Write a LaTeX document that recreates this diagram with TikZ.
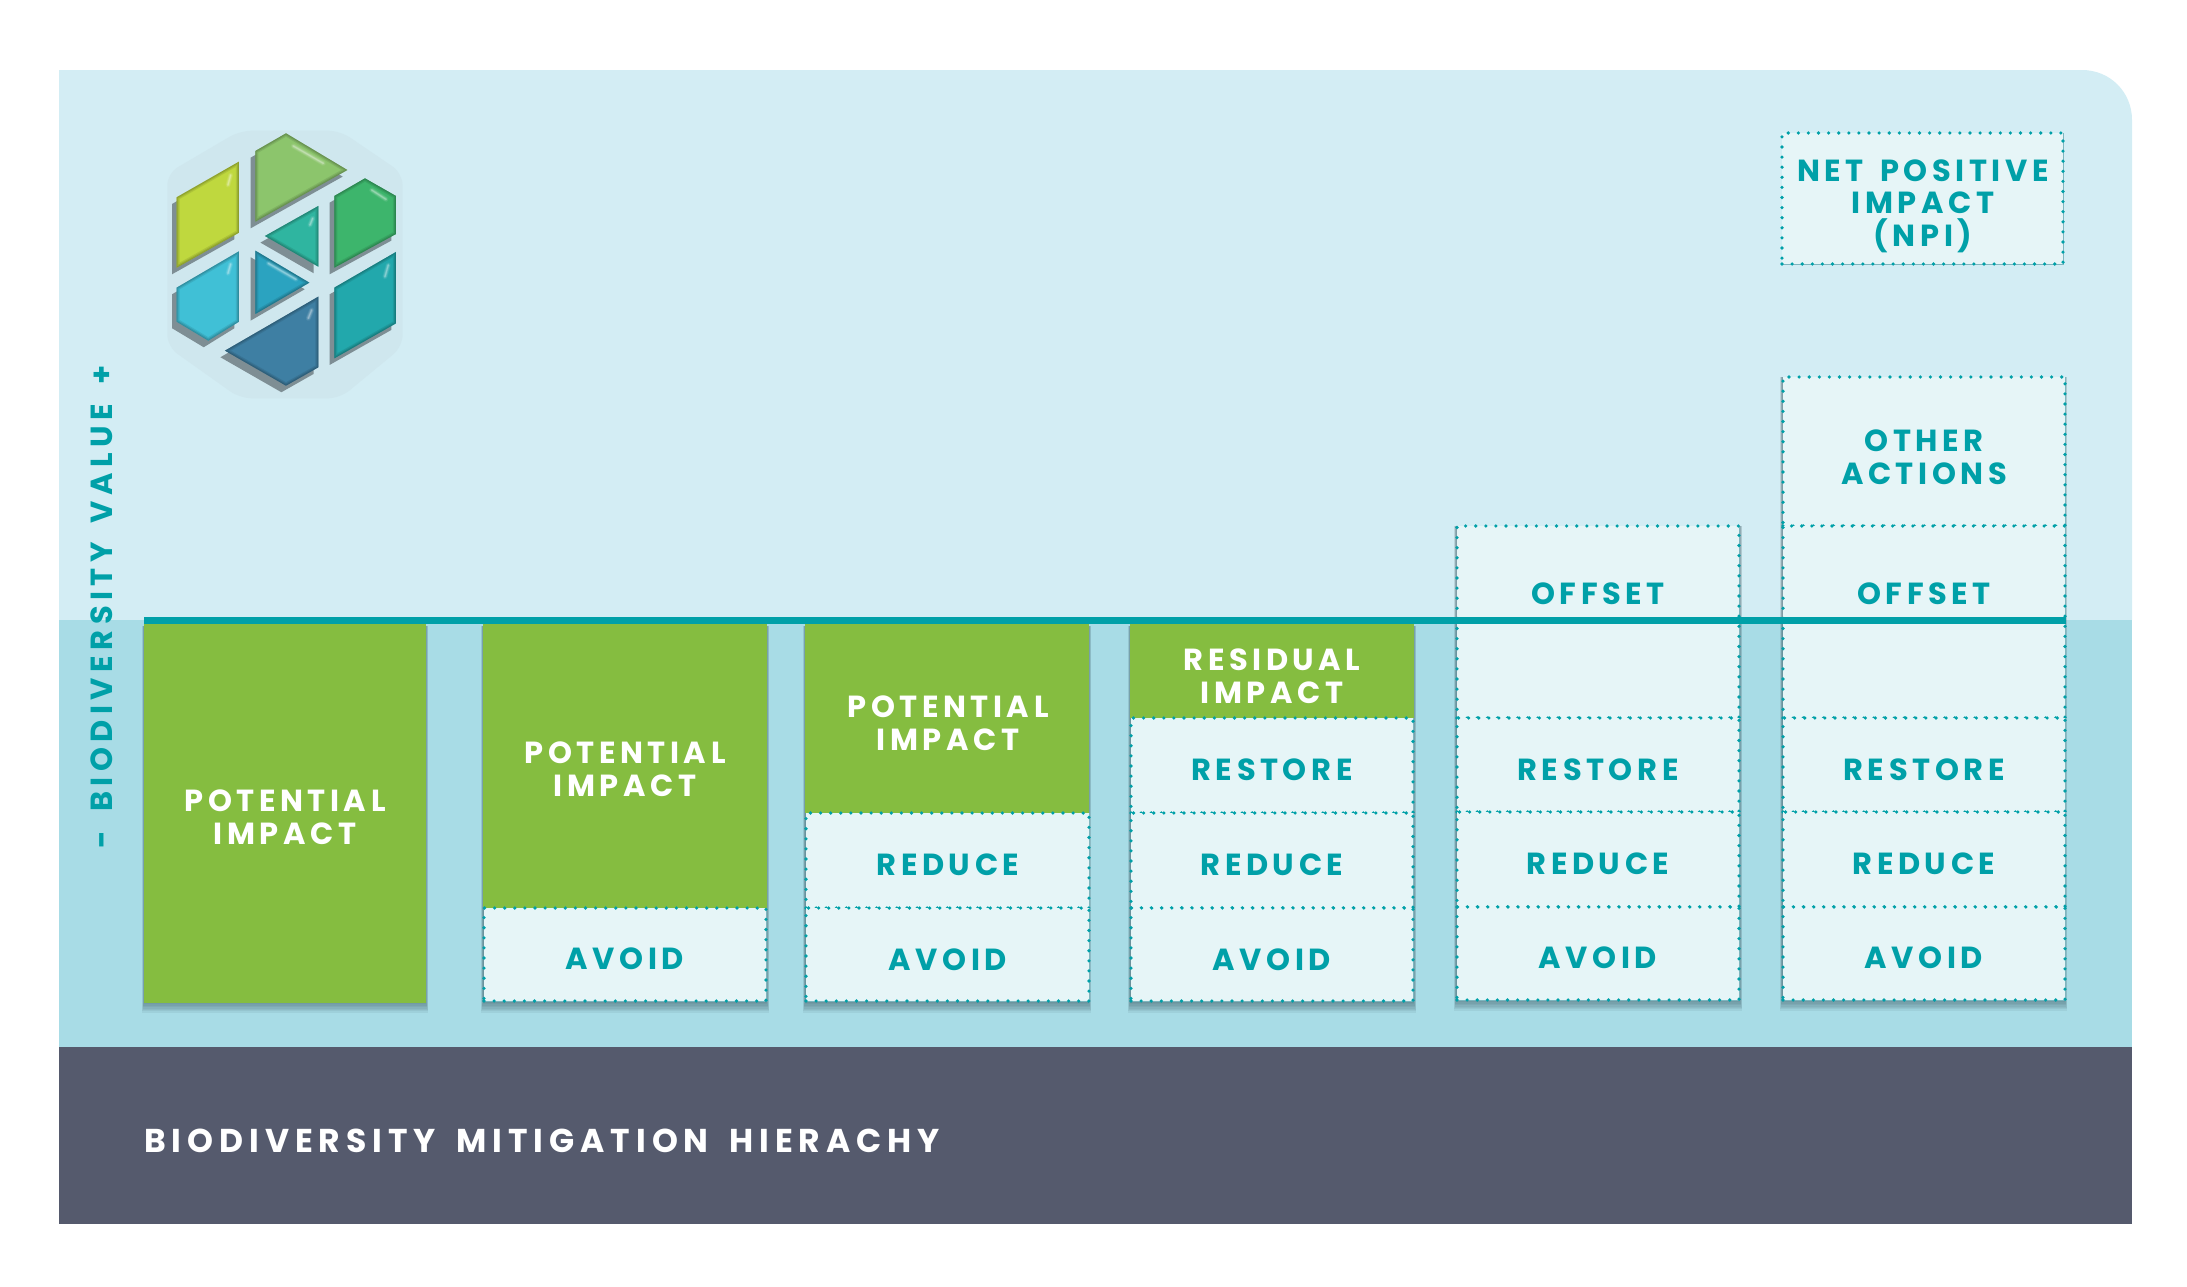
\documentclass[tikz,border=0pt]{standalone}
\usepackage{fontspec}
\newfontfamily\lblfont{Poppins Bold}[LetterSpace=15,WordSpace=1.5]
\newfontfamily\ttlfont{Poppins Bold}[LetterSpace=18,WordSpace=1.6]
\usetikzlibrary{calc}
\definecolor{bgtop}{HTML}{D3EDF4}
\definecolor{bgbot}{HTML}{A8DCE6}
\definecolor{barc}{HTML}{555A6D}
\definecolor{lgreen}{HTML}{85BD40}
\definecolor{tealc}{HTML}{00A0A8}
\definecolor{cellf}{HTML}{E6F5F7}
\definecolor{hair}{HTML}{7FB5BE}
\definecolor{logoshadow}{HTML}{7E8E94}
\definecolor{hexf}{HTML}{CFE7EE}
\definecolor{pa}{HTML}{BFD83E}
\definecolor{pb}{HTML}{8CC56C}
\definecolor{pc}{HTML}{3DB56C}
\definecolor{pd}{HTML}{2FB5A0}
\definecolor{pe}{HTML}{2BA3C0}
\definecolor{pf}{HTML}{40C0D6}
\definecolor{pg}{HTML}{22A8AC}
\definecolor{ph}{HTML}{3E7FA3}
\definecolor{shadowc}{HTML}{2F4A55}
\tikzset{
  boxcell/.style={rectangle,inner sep=0pt,outer sep=0pt,fill=cellf,draw=tealc,line width=3.6pt,line cap=round,
     dash pattern=on 0pt off 10.1pt,preaction={draw=hair,line width=.8pt,solid}},
  greencell/.style={rectangle,inner sep=0pt,outer sep=0pt,fill=lgreen},
  tl/.style={text=tealc,font=\fontsize{30.5}{32.5}\selectfont\lblfont,align=center,inner sep=0pt},
  wl/.style={text=white,font=\fontsize{30.5}{32.5}\selectfont\lblfont,align=center,inner sep=0pt},
}
\newcommand{\cellbox}[6]{%
  \pgfmathsetmacro{\cw}{#5-#3}\pgfmathsetmacro{\ch}{#6-#4}%
  \pgfmathsetmacro{\cx}{(#3+#5)/2}\pgfmathsetmacro{\cy}{(#4+#6)/2}%
  \node[#1,minimum width=\cw pt,minimum height=\ch pt] (#2) at (\cx,\cy) {};}
\newcommand{\colshadow}[4]{%
  \foreach \d in {0,1,2,3,4,5,6,7}{%
    \fill[shadowc,opacity=.08] ({#1-\d*.3},{#2}) rectangle ({#3+\d*.3},{#4+\d*1.4});}}
\newcommand{\piece}[3]{%
  \fill[#2] #1 -- cycle;
  \begin{scope}
    \clip #1 -- cycle;
    \draw[#2!60!black,line width=6pt,opacity=.22] #1 -- cycle;
    \draw[#2!60!black,line width=3.5pt,opacity=.3] #1 -- cycle;
    \draw[#2!60!black,line width=1.5pt,opacity=.35] #1 -- cycle;
    #3
  \end{scope}}
\newcommand{\glint}[2]{%
  \draw[white,line cap=round,line width=5pt,opacity=.08] #1 -- #2;
  \draw[white,line cap=round,line width=3.5pt,opacity=.12] #1 -- #2;
  \draw[white,line cap=round,line width=2pt,opacity=.16] #1 -- #2;
  \draw[white,line cap=round,line width=1pt,opacity=.2] #1 -- #2;}
\newcommand{\pshadow}[1]{%
  \begin{scope}[xshift=-4.6pt,yshift=-6.6pt]
    \fill[logoshadow] #1 -- cycle;
  \end{scope}}
\begin{document}
\begin{tikzpicture}[x=1pt,y=-1pt]
\useasboundingbox (0,0) rectangle (2187,1286);
% panel
\fill[bgtop] (59,620) -- (59,70) -- (2082,70) .. controls (2110,70) and (2132,92) .. (2132,120) -- (2132,620) -- cycle;
\fill[bgbot] (59,620) rectangle (2132,1048);
\fill[barc] (59,1047) rectangle (2132,1224);
% logo
\begin{scope}[shift={(140,110)},x=0.3333pt,y=-0.3333pt]
\fill[hexf,rounded corners=12pt] (300,62) -- (600,62) -- (788,190) -- (788,710) -- (600,865) -- (300,865) -- (82,710) -- (82,190) -- cycle;
\def\pA{(110,262) -- (297,155) -- (297,368) -- (110,473)}
\def\pB{(346,123) -- (438,70) -- (622,180) -- (346,335)}
\def\pC{(583,258) -- (675,205) -- (768,258) -- (768,372) -- (583,473)}
\def\pD{(375,378) -- (535,288) -- (535,470)}
\def\pE{(346,422) -- (508,518) -- (346,612)}
\def\pF{(110,533) -- (297,424) -- (297,635) -- (205,692) -- (110,635)}
\def\pG{(583,533) -- (768,426) -- (768,640) -- (583,745)}
\def\pH{(255,722) -- (535,560) -- (535,772) -- (438,827)}
\pshadow{\pA}\pshadow{\pB}\pshadow{\pC}\pshadow{\pD}\pshadow{\pE}\pshadow{\pF}\pshadow{\pG}\pshadow{\pH}
\piece{\pA}{pa}{\glint{(272,195)}{(264,225)}}
\piece{\pB}{pb}{\glint{(460,108)}{(550,160)}}
\piece{\pC}{pc}{\glint{(695,240)}{(738,268)}}
\piece{\pD}{pd}{\glint{(518,325)}{(510,345)}}
\piece{\pE}{pe}{\glint{(385,460)}{(468,508)}}
\piece{\pF}{pf}{\glint{(272,462)}{(264,490)}}
\piece{\pG}{pg}{\glint{(745,465)}{(735,500)}}
\piece{\pH}{ph}{\glint{(515,600)}{(505,625)}}
\end{scope}
% shadows
\colshadow{144}{626}{426}{1003}
\colshadow{483}{626}{767}{1003}
\colshadow{805}{626}{1089}{1003}
\colshadow{1130}{626}{1414}{1003}
\colshadow{1456}{526}{1740}{1001}
\colshadow{1782}{377}{2065}{1001}
% column 1
\cellbox{greencell}{a1}{144}{620}{426}{1003}
% column 2
\cellbox{greencell}{b2}{483}{620}{767}{908}
\cellbox{boxcell}{b1}{484}{908}{766}{1001}
% column 3
\cellbox{greencell}{c3}{805}{620}{1089}{813}
\cellbox{boxcell}{c2}{806}{813}{1089}{908}
\cellbox{boxcell}{c1}{806}{908}{1089}{1001}
% column 4
\cellbox{greencell}{d4}{1130}{620}{1414}{718}
\cellbox{boxcell}{d3}{1131}{718}{1413}{813}
\cellbox{boxcell}{d2}{1131}{813}{1413}{908}
\cellbox{boxcell}{d1}{1131}{908}{1413}{1001}
% column 5
\cellbox{boxcell}{e5}{1457}{526}{1739}{718}
\cellbox{boxcell}{e3}{1457}{718}{1739}{812}
\cellbox{boxcell}{e2}{1457}{812}{1739}{907}
\cellbox{boxcell}{e1}{1457}{907}{1739}{1000}
% column 6
\cellbox{boxcell}{f6}{1783}{377}{2065}{526}
\cellbox{boxcell}{f5}{1783}{526}{2065}{718}
\cellbox{boxcell}{f3}{1783}{718}{2065}{812}
\cellbox{boxcell}{f2}{1783}{812}{2065}{907}
\cellbox{boxcell}{f1}{1783}{907}{2065}{1000}
% NPI
\cellbox{boxcell}{npi}{1782}{133}{2063}{264}
% baseline
\coordinate (lineL) at (144,620.5);
\coordinate (lineR) at (2066,620.5);
\draw[tealc,line width=7pt] (lineL) -- (lineR);
% labels
\node[wl] (t1) at (285,817) {POTENTIAL\\IMPACT};
\node[wl] (t2) at (625,769) {POTENTIAL\\IMPACT};
\node[wl] (t3) at (948,723) {POTENTIAL\\IMPACT};
\node[wl] (t4) at (1272,676) {RESIDUAL\\IMPACT};
\node[tl] (av2) at (625,959) {AVOID};
\node[tl] (av3) at (948,960) {AVOID};
\node[tl] (av4) at (1272,960) {AVOID};
\node[tl] (av5) at (1598,958) {AVOID};
\node[tl] (av6) at (1924,958) {AVOID};
\node[tl] (re3) at (948,865) {REDUCE};
\node[tl] (re4) at (1272,865) {REDUCE};
\node[tl] (re5) at (1598,864) {REDUCE};
\node[tl] (re6) at (1924,864) {REDUCE};
\node[tl] (rs4) at (1272,770) {RESTORE};
\node[tl] (rs5) at (1598,770) {RESTORE};
\node[tl] (rs6) at (1924,770) {RESTORE};
\node[tl] (of5) at (1598,594) {OFFSET};
\node[tl] (of6) at (1924,594) {OFFSET};
\node[tl] (oa) at (1924,457) {OTHER\\ACTIONS};
\node[tl] (np) at (1923,206) {NET POSITIVE\\IMPACT\\(NPI)};
\node[tl,rotate=90] (yax) at (102,607) {\ttlfont - BIODIVERSITY VALUE +};
\node[wl,anchor=west] (ttl) at (144,1141) {\fontsize{33}{36}\selectfont\ttlfont BIODIVERSITY MITIGATION HIERACHY};
\end{tikzpicture}
\end{document}
